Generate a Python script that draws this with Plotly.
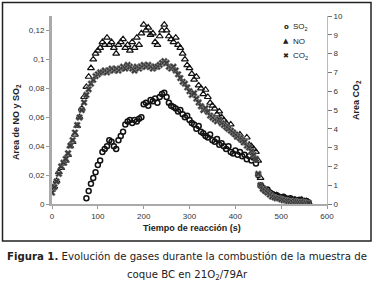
import plotly.graph_objects as go

# --- data ---
t_no = list(range(0, 561, 5))
no_vals = [0.010, 0.012, 0.016, 0.022, 0.025, 0.028, 0.030, 0.034, 0.040, 0.043,
           0.048, 0.054, 0.060, 0.066, 0.074, 0.081, 0.088, 0.094, 0.100, 0.104,
           0.106, 0.108, 0.112, 0.110, 0.115, 0.110, 0.112, 0.108, 0.104, 0.110,
           0.112, 0.114, 0.108, 0.110, 0.106, 0.112, 0.108, 0.115, 0.110, 0.118,
           0.124, 0.120, 0.122, 0.117, 0.118, 0.112, 0.110, 0.116, 0.120, 0.124,
           0.120, 0.116, 0.114, 0.112, 0.115, 0.110, 0.108, 0.104, 0.100, 0.096,
           0.094, 0.090, 0.086, 0.088, 0.082, 0.080, 0.076, 0.079, 0.074, 0.070,
           0.068, 0.066, 0.062, 0.064, 0.060, 0.058, 0.056, 0.052, 0.055, 0.050,
           0.048, 0.046, 0.048, 0.044, 0.042, 0.046, 0.041, 0.040, 0.038, 0.036,
           0.030, 0.018, 0.012, 0.010, 0.009, 0.008, 0.007, 0.006, 0.006, 0.005,
           0.004, 0.004, 0.003, 0.003, 0.003, 0.002, 0.003, 0.002, 0.002, 0.003,
           0.002, 0.002, 0.001]

t_co2 = list(range(0, 561, 5))
co2_vals = [0.6, 0.9, 1.2, 1.6, 2.0, 2.2, 2.4, 2.7, 3.1, 3.4,
            3.8, 4.2, 4.6, 5.0, 5.4, 5.8, 6.1, 6.4, 6.6, 6.8,
            6.9, 7.0, 7.0, 7.1, 7.0, 7.1, 7.2, 7.1, 7.2, 7.1,
            7.2, 7.3, 7.2, 7.4, 7.3, 7.2, 7.1, 7.3, 7.2, 7.3,
            7.4, 7.3, 7.4, 7.3, 7.2, 7.3, 7.3, 7.4, 7.5, 7.6,
            7.5, 7.3, 7.2, 7.3, 7.1, 6.9, 6.7, 6.5, 6.4, 6.2,
            6.0, 5.8, 5.9, 5.6, 5.4, 5.2, 5.0, 5.1, 4.9, 4.7,
            4.6, 4.5, 4.4, 4.5, 4.3, 4.2, 4.1, 4.0, 3.9, 3.8,
            3.7, 3.6, 3.5, 3.4, 3.3, 3.1, 3.0, 2.8, 2.6, 2.4,
            1.6, 1.0, 0.8, 0.7, 0.6, 0.5, 0.4, 0.35, 0.3, 0.3,
            0.25, 0.2, 0.2, 0.15, 0.15, 0.1, 0.15, 0.1, 0.1, 0.1,
            0.1, 0.05, 0.05]

t_so2 = list(range(75, 561, 5))
so2_vals = [0.004, 0.009, 0.014, 0.018, 0.022, 0.027, 0.030, 0.036, 0.038, 0.040,
            0.044, 0.043, 0.040, 0.038, 0.044, 0.047, 0.050, 0.055, 0.057, 0.058,
            0.056, 0.058, 0.057, 0.059, 0.060, 0.069, 0.070, 0.068, 0.072, 0.071,
            0.073, 0.070, 0.074, 0.076, 0.077, 0.074, 0.070, 0.068, 0.067, 0.066,
            0.064, 0.065, 0.062, 0.060, 0.061, 0.058, 0.056, 0.055, 0.052, 0.054,
            0.050, 0.049, 0.047, 0.046, 0.048, 0.044, 0.043, 0.045, 0.041, 0.042,
            0.040, 0.038, 0.040, 0.036, 0.035, 0.037, 0.034, 0.036, 0.033, 0.034,
            0.031, 0.033, 0.030, 0.032, 0.028, 0.020, 0.013, 0.011, 0.009, 0.010,
            0.008, 0.007, 0.006, 0.006, 0.005, 0.004, 0.005, 0.004, 0.003, 0.004,
            0.003, 0.003, 0.002, 0.003, 0.002, 0.002, 0.002, 0.001]

x_ticks = [0, 100, 200, 300, 400, 500, 600]
left_ticks = [0, 0.02, 0.04, 0.06, 0.08, 0.1, 0.12]
left_tick_labels = ["0", "0,02", "0,04", "0,06", "0,08", "0,1", "0,12"]
right_ticks = [0, 1, 2, 3, 4, 5, 6, 7, 8, 9, 10]
legend_labels = ["SO<sub>2</sub>", "NO", "CO<sub>2</sub>"]
legend_glyphs = ["<b>o</b>", "▲", "✖"]

W, H = 373, 286
L, R, T, B = 52, 327, 16, 204  # plot-area pixel edges


def px(x):
    return (x - L) / (R - L)


def py(y):
    return (B - y) / (B - T)


fig = go.Figure()
fig.add_trace(go.Scatter(x=t_so2, y=so2_vals, mode="markers", name=legend_labels[0],
                         marker=dict(symbol="circle-open", size=5, color="#111",
                                     line=dict(width=1.5, color="#111"))))
fig.add_trace(go.Scatter(x=t_no, y=no_vals, mode="markers", name=legend_labels[1],
                         marker=dict(symbol="triangle-up-open", size=6, color="#111",
                                     line=dict(width=1.2, color="#111"))))
fig.add_trace(go.Scatter(x=t_co2, y=co2_vals, mode="markers", name=legend_labels[2],
                         yaxis="y2",
                         marker=dict(symbol="x", size=6, color="#3a3a3a",
                                     line=dict(width=0.5, color="#999"))))

tick_font = dict(family="Liberation Sans, Arial, sans-serif", size=8, color="#333")

fig.update_layout(
    width=W, height=H,
    margin=dict(l=L, r=W - R, t=T, b=H - B, pad=0, autoexpand=False),
    paper_bgcolor="white", plot_bgcolor="white",
    showlegend=False,
    xaxis=dict(range=[0, 600], tickvals=x_ticks, ticks="outside", ticklen=3,
               tickcolor="#999", showgrid=False, zeroline=False, showline=True,
               linecolor="#aaa", linewidth=2, tickfont=tick_font, automargin=False),
    yaxis=dict(range=[0, 0.13], tickvals=left_ticks, ticktext=left_tick_labels,
               ticks="outside", ticklen=3, tickcolor="#999", showgrid=False,
               zeroline=False, showline=True, linecolor="#aaa", linewidth=3,
               tickfont=tick_font, automargin=False),
    yaxis2=dict(range=[0, 10], overlaying="y", side="right", tickvals=right_ticks,
                ticks="outside", ticklen=4, tickcolor="#777", showgrid=False,
                zeroline=False, showline=True, linecolor="#bbb", linewidth=1,
                tickfont=tick_font, automargin=False),
)


def note(x, y, text, font, xanchor="center", angle=0):
    fig.add_annotation(x=px(x), y=py(y), xref="paper", yref="paper", text=text,
                       showarrow=False, font=font, xanchor=xanchor, yanchor="middle",
                       textangle=angle)


# legend drawn as text entries
leg_font = dict(family="Liberation Sans, Arial, sans-serif", size=8, color="#222")
glyph_font = dict(family="DejaVu Sans, sans-serif", size=7, color="#222")
for i, (g, lab) in enumerate(zip(legend_glyphs, legend_labels)):
    yy = 27 + i * 14.5
    note(286, yy, g, glyph_font)
    note(291, yy, lab, leg_font, xanchor="left")

title_font = dict(family="Liberation Sans, Arial, sans-serif", size=9, color="#222")
note(16, 122, "<b>Area de NO y SO<sub>2</sub></b>", title_font, angle=-90)
note(356, 100, "<b>Area CO<sub>2</sub></b>", title_font, angle=-90)
note(192, 228, "<b>Tiempo de reacción (s)</b>", title_font)

cap_font = dict(family="DejaVu Sans Condensed, Liberation Sans Narrow, sans-serif",
                size=11.3, color="#222")
note(187, 256, "<b>Figura 1.</b> Evolución de gases durante la combustión de la muestra de",
     cap_font)
note(187, 275, "coque BC en 21O<sub>2</sub>/79Ar", cap_font)

fig.add_shape(type="rect", xref="paper", yref="paper",
              x0=px(2.5), x1=px(371), y0=py(241), y1=py(2.5),
              line=dict(color="#222", width=1.5))

fig.write_html("out.html", config={"displayModeBar": False},
               post_script="document.body.style.margin='0';document.body.style.padding='0';")
